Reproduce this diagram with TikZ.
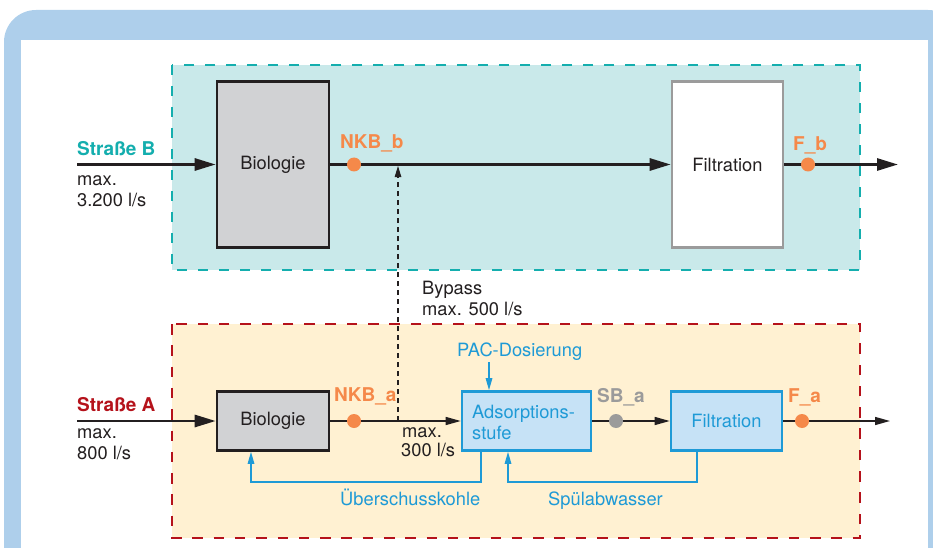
\documentclass[tikz,border=0pt]{standalone}
\usepackage{fontspec}
\setmainfont{TeX Gyre Heros}
\usetikzlibrary{arrows.meta}
\definecolor{frameblue}{HTML}{AECFEB}
\definecolor{tealline}{HTML}{14AEAE}
\definecolor{tealfill}{HTML}{C9E9EA}
\definecolor{redline}{HTML}{B5121B}
\definecolor{yellowfill}{HTML}{FFF1D2}
\definecolor{orangedot}{HTML}{F5894A}
\definecolor{boxblue}{HTML}{1E9AD6}
\definecolor{boxbluefill}{HTML}{C6E2F6}
\definecolor{biofill}{HTML}{D1D2D4}
\definecolor{txt}{HTML}{231F20}
\definecolor{graydot}{HTML}{9B9B9B}
\begin{document}
\begin{tikzpicture}[x=1pt,y=-1pt,
  every node/.style={font=\fontsize{18.3}{22}\selectfont, text=txt},
  lbl/.style={anchor=base west, inner sep=0pt},
  blbl/.style={anchor=base west, inner sep=0pt, font=\fontsize{19}{22}\selectfont\bfseries},
  biobox/.style={draw=txt, line width=2.6pt, fill=biofill, inner sep=0pt},
  filbox/.style={draw=graydot, line width=2.6pt, fill=white, inner sep=0pt},
  bluebox/.style={draw=boxblue, line width=2.6pt, fill=boxbluefill, inner sep=0pt, text=boxblue},
  thickflow/.style={draw=txt, line width=2.8pt, -{Triangle[length=21pt,width=12pt]}},
  thickline/.style={draw=txt, line width=2.8pt},
  thinflow/.style={draw=txt, line width=1.4pt, -{Triangle[length=15pt,width=8pt]}},
  blueflow/.style={draw=boxblue, line width=1.4pt, -{Triangle[length=12pt,width=6.5pt]}},
  dotstyle/.style={circle, fill=#1, inner sep=0pt, minimum size=14pt}
]
\useasboundingbox (0,0) rectangle (933,548);
\clip (0,0) rectangle (933,548);
% frame
\fill[frameblue, rounded corners=32pt] (4,10) rectangle (960,580);
\fill[white] (21,40) rectangle (928,580);
% zones
\draw[tealline, fill=tealfill, line width=2.4pt, dash pattern=on 10pt off 11pt] (172,65) rectangle (860,270);
\draw[redline, fill=yellowfill, line width=2.7pt, dash pattern=on 10.5pt off 10.8pt] (172,324) rectangle (860,538);
% boxes
\node[biobox, minimum width=112pt, minimum height=166pt] (bioB) at (273,164.5) {Biologie};
\node[filbox, minimum width=111pt, minimum height=166pt] (filB) at (727.5,164.5) {Filtration};
\node[biobox, minimum width=112pt, minimum height=59pt] (bioA) at (273,421) {Biologie};
\node[bluebox, minimum width=129pt, minimum height=59pt] (ads) at (526.5,421) {};
\node[bluebox, minimum width=111pt, minimum height=59pt] (filA) at (726.5,421) {Filtration};
\node[lbl, text=boxblue] (adsT1) at (472,418) {Adsorptions-};
\node[lbl, text=boxblue] (adsT2) at (472,439) {stufe};
% coordinates
\coordinate (inB) at (77,164.5);
\coordinate (outB) at (898,164.5);
\coordinate (inA) at (77,421);
\coordinate (outA) at (890,421);
\coordinate (jA) at (398,421);
\coordinate (jB) at (398,166);
\coordinate (pac) at (489,362);
\coordinate (u1) at (481,482);
\coordinate (u2) at (251,482);
\coordinate (s1) at (697,482);
\coordinate (s2) at (508,482);
% Strasse B flow
\draw[thickflow] (inB) -- (bioB.west);
\draw[thickflow] (bioB.east) -- (filB.west);
\draw[thickflow] (filB.east) -- (outB);
% Strasse A flow
\draw[thickflow] (inA) -- (bioA.west);
\draw[thickline] (bioA.east) -- (jA);
\draw[thinflow] (jA) -- (ads.west);
\draw[thinflow] (ads.east) -- (filA.west);
\draw[thinflow] (filA.east) -- (outA);
% bypass
\draw[txt, line width=1.1pt, dash pattern=on 5pt off 4pt, -{Triangle[length=11pt,width=6.5pt]}] (jA) -- (jB);
% blue flows
\draw[blueflow] (pac) -- (pac |- ads.north);
\draw[blueflow] (ads.south -| u1) -- (u1) -- (u2) -- (u2 |- bioA.south);
\draw[blueflow] (filA.south -| s1) -- (s1) -- (s2) -- (s2 |- ads.south);
% dots
\node[dotstyle=orangedot] (nkbb) at (354,164.5) {};
\node[dotstyle=orangedot] (fb) at (808,164.5) {};
\node[dotstyle=orangedot] (nkba) at (354,421) {};
\node[dotstyle=graydot] (sba) at (616,421) {};
\node[dotstyle=orangedot] (fa) at (802,421) {};
% labels
\node[blbl, text=tealline] (lsb) at (77,156) {Straße B};
\node[lbl] (lsb1) at (77,185) {max.};
\node[lbl] (lsb2) at (77,206) {3.200 l/s};
\node[blbl, text=orangedot] (lnkbb) at (340,149) {NKB\_b};
\node[blbl, text=orangedot] (lfb) at (793,150) {F\_b};
\node[lbl] (lby1) at (422,294) {Bypass};
\node[lbl] (lby2) at (422,315) {max. 500 l/s};
\node[blbl, text=redline] (lsa) at (77,411) {Straße A};
\node[lbl] (lsa1) at (77,438) {max.};
\node[lbl] (lsa2) at (77,459) {800 l/s};
\node[blbl, text=orangedot] (lnkba) at (334,401) {NKB\_a};
\node[lbl] (l3001) at (402,437) {max.};
\node[lbl] (l3002) at (401,456) {300 l/s};
\node[lbl, text=boxblue] (lpac) at (457,356) {PAC-Dosierung};
\node[blbl, text=graydot] (lsba) at (597,402) {SB\_a};
\node[blbl, text=orangedot] (lfa) at (788,402) {F\_a};
\node[lbl, text=boxblue] (lub) at (340,505) {Überschusskohle};
\node[lbl, text=boxblue] (lsp) at (548,505) {Spülabwasser};
\end{tikzpicture}
\end{document}
